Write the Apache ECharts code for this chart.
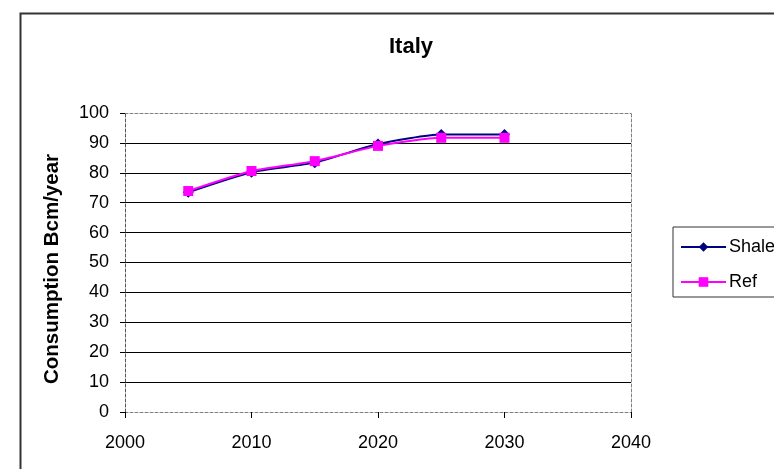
<!DOCTYPE html>
<html>
<head>
<meta charset="utf-8">
<script src="https://cdn.jsdelivr.net/npm/echarts@6/dist/echarts.min.js"></script>
<style>
  html, body { margin: 0; padding: 0; background: #fff; }
  #chart { width: 774px; height: 469px; }
</style>
</head>
<body>
<div id="chart"></div>
<script>
// Natural gas consumption outlook for Italy (Bcm/year)
const years = [2005, 2010, 2015, 2020, 2025, 2030];
const shaleValues = [73.5, 80.2, 83.4, 89.6, 92.8, 92.8];
const refValues = [73.9, 80.6, 83.9, 89.0, 91.7, 91.7];
const xTicks = [2000, 2010, 2020, 2030, 2040];
const yTicks = [0, 10, 20, 30, 40, 50, 60, 70, 80, 90, 100];

const pairs = (xs, ys) => xs.map((x, i) => [x, ys[i]]);

const chart = echarts.init(document.getElementById('chart'), null, { renderer: 'canvas' });

// grid line colours: outer edges come from the dashed frame axes instead
const gridColors = yTicks.map((v, i) => (i === 0 || i === yTicks.length - 1) ? 'rgba(0,0,0,0)' : '#000');

const font = 'Liberation Sans, Arial, sans-serif';

chart.setOption({
  animation: false,
  backgroundColor: '#fff',
  textStyle: { fontFamily: font },
  title: {
    text: 'Italy',
    left: 406,
    textAlign: 'center',
    top: 31,
    textStyle: { fontSize: 22, fontWeight: 'bold', color: '#000', fontFamily: font }
  },
  graphic: [{
    type: 'rect',
    left: 18, top: 11,
    shape: { width: 800, height: 500 },
    style: { fill: 'none', stroke: '#333', lineWidth: 2 },
    silent: true
  }],
  legend: {
    orient: 'vertical',
    left: 673,
    top: 227,
    padding: [11, 40, 6, 7],
    itemGap: 17,
    itemWidth: 45,
    itemHeight: 12,
    borderColor: '#333',
    borderWidth: 1,
    textStyle: { fontSize: 18, color: '#000', fontFamily: font, padding: [0, 0, 0, -2] },
    data: ['Shale', 'Ref']
  },
  grid: { left: 125, right: 143, top: 113, bottom: 57 },
  xAxis: [{
    type: 'value',
    min: 2000, max: 2040, interval: 10,
    axisLine: { show: true, onZero: false, lineStyle: { color: '#808080', type: [3, 2], width: 1 } },
    axisTick: { show: true, length: 6, lineStyle: { color: '#000' } },
    axisLabel: { fontSize: 18, color: '#000', margin: 22, fontFamily: font,
      formatter: v => xTicks.includes(v) ? String(v) : '' },
    splitLine: { show: false }
  }, {
    type: 'value',
    position: 'top',
    min: 2000, max: 2040, interval: 10,
    axisLine: { show: true, onZero: false, lineStyle: { color: '#808080', type: [3, 2], width: 1 } },
    axisTick: { show: false },
    axisLabel: { show: false },
    splitLine: { show: false }
  }],
  yAxis: [{
    type: 'value',
    min: 0, max: 100, interval: 10,
    name: 'Consumption Bcm/year',
    nameLocation: 'middle',
    nameGap: 62,
    nameTextStyle: { fontSize: 20.5, fontWeight: 'bold', color: '#000', fontFamily: font, padding: [0, 13, 0, 0] },
    axisLine: { show: true, onZero: false, lineStyle: { color: '#555', type: [3, 2], width: 1 } },
    axisTick: { show: true, length: 5, lineStyle: { color: '#000' } },
    axisLabel: { fontSize: 18, color: '#000', margin: 16, fontFamily: font,
      formatter: v => yTicks.includes(v) ? String(v) : '' },
    splitLine: { show: true, lineStyle: { color: gridColors, width: 1 } }
  }, {
    type: 'value',
    position: 'right',
    min: 0, max: 100, interval: 10,
    axisLine: { show: true, onZero: false, lineStyle: { color: '#808080', type: [3, 2], width: 1 } },
    axisTick: { show: false },
    axisLabel: { show: false },
    splitLine: { show: false }
  }],
  series: [{
    name: 'Shale',
    type: 'line',
    data: pairs(years, shaleValues),
    smooth: 0.2,
    symbol: 'diamond',
    symbolSize: 11,
    lineStyle: { color: '#000080', width: 2 },
    itemStyle: { color: '#000080' },
    z: 2
  }, {
    name: 'Ref',
    type: 'line',
    data: pairs(years, refValues),
    smooth: 0.2,
    symbol: 'rect',
    symbolSize: 10,
    lineStyle: { color: '#ff00ff', width: 2 },
    itemStyle: { color: '#ff00ff' },
    z: 3
  }]
});
</script>
</body>
</html>
